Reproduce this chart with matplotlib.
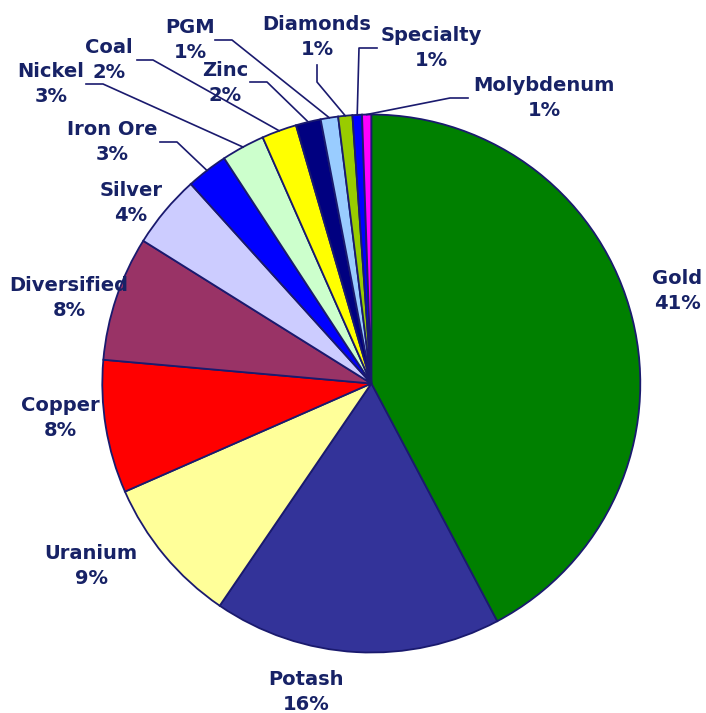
import matplotlib.pyplot as plt
import numpy as np

# slice order, clockwise from 12 o'clock
minerals = ['Gold', 'Potash', 'Uranium', 'Copper', 'Diversified', 'Silver', 'Iron Ore',
            'Nickel', 'Coal', 'Zinc', 'PGM', 'Diamonds', 'Specialty', 'Molybdenum']
# slice sizes (percent)
shares = [42.3, 17.3, 8.9, 8.0, 7.5, 4.4, 2.5, 2.6, 2.1, 1.5, 1.05, 0.85, 0.57, 0.55]
# percentages as printed on the chart
pct_text = ['41%', '16%', '9%', '8%', '8%', '4%', '3%', '3%', '2%', '2%', '1%', '1%', '1%', '1%']
colors = ['#008000', '#333399', '#FFFF99', '#FF0000', '#993366', '#CCCCFF', '#0000FF',
          '#CCFFCC', '#FFFF00', '#000080', '#99CCFF', '#99CC00', '#0000FF', '#FF00FF']

TEXT = '#172266'
EDGE = '#1A1A6E'

# figure size in pixels, pie centre and radius in pixels
W, H = 706, 713
CX, CY, R = 371.3, 383.5, 269.0


def px(x, y):
    """pixel position -> pie data coords (radius 1)"""
    return (x - CX) / R, (CY - y) / R


# centre of each two-line label, in pixels
label_pos = {
    'Gold': (677, 291), 'Potash': (306, 692), 'Uranium': (91, 566),
    'Copper': (60, 418), 'Diversified': (69, 298), 'Silver': (131, 203),
    'Iron Ore': (112, 142), 'Nickel': (51, 84), 'Coal': (109, 60),
    'Zinc': (225, 83), 'PGM': (190, 40), 'Diamonds': (317, 37),
    'Specialty': (431, 48), 'Molybdenum': (544, 98),
}
# leader lines: start and elbow in pixels, they end on the rim of the slice
leaders = {
    'Iron Ore': [(160, 142), (177, 142)],
    'Nickel': [(86, 84), (103, 84)],
    'Coal': [(137, 60), (153, 60)],
    'Zinc': [(250, 82), (267, 82)],
    'PGM': [(215, 40), (232, 40)],
    'Diamonds': [(317, 65), (317, 82)],
    'Specialty': [(377, 48), (359, 48)],
    'Molybdenum': [(468, 98), (450, 98)],
}

fig = plt.figure(figsize=(W / 100, H / 100), dpi=100)
ax = fig.add_axes([0, 0, 1, 1])
wedges, _ = ax.pie(shares, colors=colors, startangle=90, counterclock=False, radius=1,
                   wedgeprops=dict(edgecolor=EDGE, linewidth=1.3))
ax.set_xlim(-CX / R, (W - CX) / R)
ax.set_ylim(-(H - CY) / R, CY / R)
ax.axis('off')

for i, name in enumerate(minerals):
    lx, ly = px(*label_pos[name])
    ax.text(lx, ly, f'{name}\n{pct_text[i]}', ha='center', va='center',
            fontsize=14, fontweight='bold', color=TEXT, linespacing=1.4)
    if name in leaders:
        w = wedges[i]
        mid = np.deg2rad((w.theta1 + w.theta2) / 2)
        pts = [px(*p) for p in leaders[name]] + [(np.cos(mid), np.sin(mid))]
        xs, ys = zip(*pts)
        ax.plot(xs, ys, color=EDGE, lw=1.2)

fig.savefig('out.png', dpi=100)
